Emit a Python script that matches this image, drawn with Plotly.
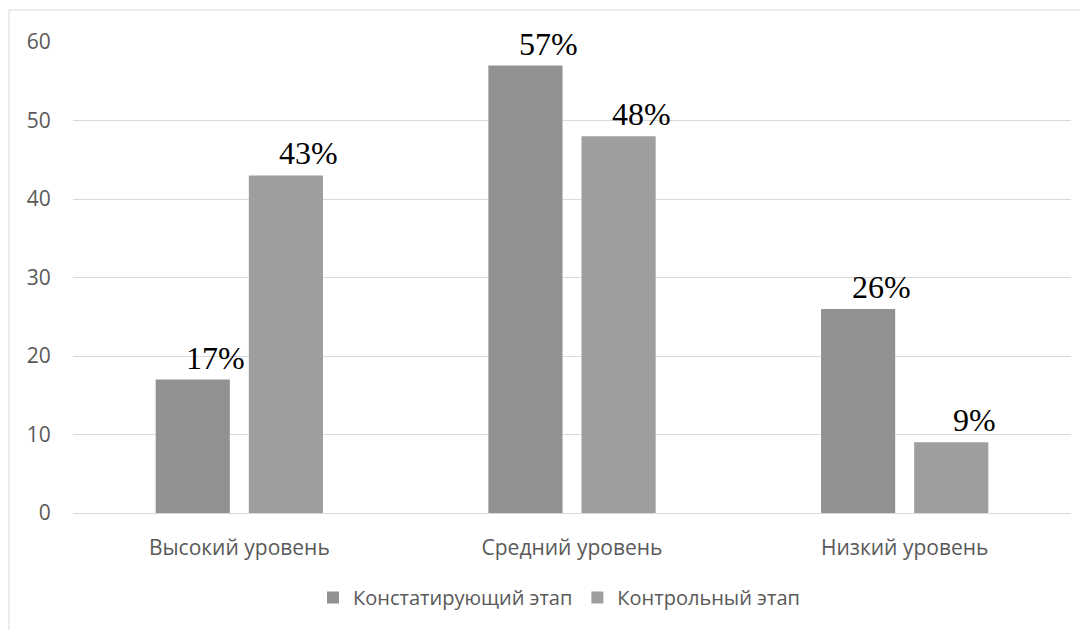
import plotly.graph_objects as go

categories = ["Высокий уровень", "Средний уровень", "Низкий уровень"]
series_names = ["Констатирующий этап", "Контрольный этап"]
values_stage1 = [17, 57, 26]
values_stage2 = [43, 48, 9]
colors = ["#919191", "#9e9e9e"]

W, H = 1080, 622
ML, MR, MT, MB = 65, 17, 34, 117
BARGAP, BARGROUPGAP = 0.44, 0.204

fig = go.Figure()
for name, vals, col in zip(series_names, [values_stage1, values_stage2], colors):
    fig.add_trace(go.Bar(
        x=categories, y=vals, name=name,
        marker=dict(color=col, line=dict(width=0)),
        hoverinfo="x+y",
    ))

# data labels (slightly nudged right like the original)
plot_w = W - ML - MR
cat_w = plot_w / len(categories)
slot = cat_w * (1 - BARGAP) / 2
annotations = []
for si, vals in enumerate([values_stage1, values_stage2]):
    side = -1 if si == 0 else 1
    for cat, v in zip(categories, vals):
        annotations.append(dict(
            x=cat, y=v, xref="x", yref="y", text=f"{v}%", showarrow=False,
            xanchor="center", yanchor="bottom",
            xshift=side * slot / 2 + 23, yshift=2,
            font=dict(family="Liberation Serif", size=32, color="#000000"),
        ))

fig.update_layout(
    width=W, height=H,
    margin=dict(l=ML, r=MR, t=MT, b=MB),
    paper_bgcolor="white", plot_bgcolor="white",
    barmode="group", bargap=BARGAP, bargroupgap=BARGROUPGAP,
    font=dict(family="Open Sans", size=21, color="#595959"),
    showlegend=True,
    legend=dict(orientation="h", x=0.487, xanchor="center", y=-0.138, yanchor="top",
                font=dict(size=20, color="#595959"), itemwidth=30,
                traceorder="normal"),
    xaxis=dict(showgrid=False, showline=False, zeroline=False,
               ticks="outside", ticklen=16, tickcolor="rgba(0,0,0,0)",
               tickfont=dict(size=21, color="#595959")),
    yaxis=dict(range=[0, 60], dtick=10, showgrid=True, gridcolor="#d9d9d9", gridwidth=1,
               zeroline=True, zerolinecolor="#d9d9d9", zerolinewidth=1,
               showline=False, ticks="outside", ticklen=17, tickcolor="rgba(0,0,0,0)",
               tickfont=dict(size=21, color="#595959")),
    annotations=annotations,
    shapes=[dict(type="rect", xref="paper", yref="paper",
                 x0=(1 - ML) / plot_w, x1=1.2, y0=-0.5, y1=(H - MB - 2) / (H - MT - MB),
                 line=dict(color="#d9d9d9", width=1), fillcolor="rgba(0,0,0,0)", layer="below")],
)

fig.write_html("out.html")
